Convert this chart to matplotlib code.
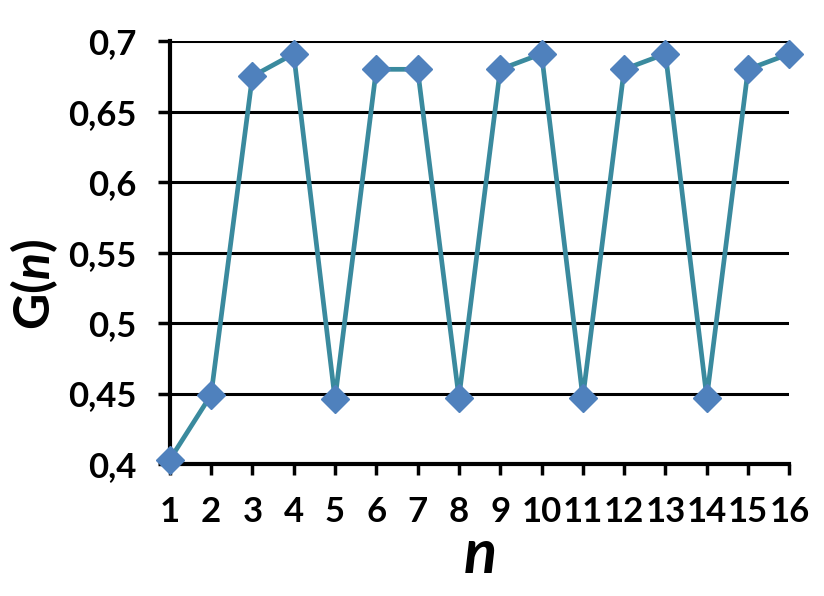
import matplotlib
matplotlib.use("Agg")
import matplotlib.pyplot as plt

# data
n = [1, 2, 3, 4, 5, 6, 7, 8, 9, 10, 11, 12, 13, 14, 15, 16]
g = [0.403, 0.449, 0.675, 0.691, 0.446, 0.680, 0.680, 0.447,
     0.680, 0.691, 0.447, 0.680, 0.691, 0.447, 0.680, 0.691]
yticks = [0.4, 0.45, 0.5, 0.55, 0.6, 0.65, 0.7]
ylabels = ["0,4", "0,45", "0,5", "0,55", "0,6", "0,65", "0,7"]

plt.rcParams['font.family'] = ['Lato', 'DejaVu Sans']
plt.rcParams['mathtext.fontset'] = 'custom'
plt.rcParams['mathtext.bf'] = 'Lato:bold'
plt.rcParams['mathtext.bfit'] = 'Lato:bold:italic'

fig = plt.figure(figsize=(8.24, 5.96), dpi=100)
ax = fig.add_axes([0.206, 0.2215, 0.752, 0.7095])

# grid lines
for y in yticks[1:]:
    ax.axhline(y, color='black', lw=2.2, zorder=1)

ax.plot(n, g, color='#3A8A9E', lw=3.4, marker='D', markersize=14,
        markerfacecolor='#4F81BD', markeredgecolor='#4F81BD', zorder=3,
        clip_on=False)

ax.set_xlim(1, 16)
ax.set_ylim(0.4, 0.7)
ax.set_xticks(n)
ax.set_xticklabels([str(v) for v in n], fontsize=25, fontweight='bold')
ax.set_yticks(yticks)
ax.set_yticklabels(ylabels, fontsize=25, fontweight='bold')

for s in ['top', 'right']:
    ax.spines[s].set_visible(False)
for s in ['left', 'bottom']:
    ax.spines[s].set_linewidth(3)
    ax.spines[s].set_zorder(2)
ax.tick_params(axis='y', length=9, width=2.5, pad=15)
ax.tick_params(axis='x', length=8, width=2.5, pad=15)

fig.text(0.041, 0.523, r"$\mathbf{G(}\mathbfit{n}\mathbf{)}$", rotation=90,
         fontsize=36, ha='center', va='center')
fig.text(0.583, 0.069, "n", fontsize=44, fontweight='bold', style='italic',
         ha='center', va='center')

fig.savefig("out.png", dpi=100)
